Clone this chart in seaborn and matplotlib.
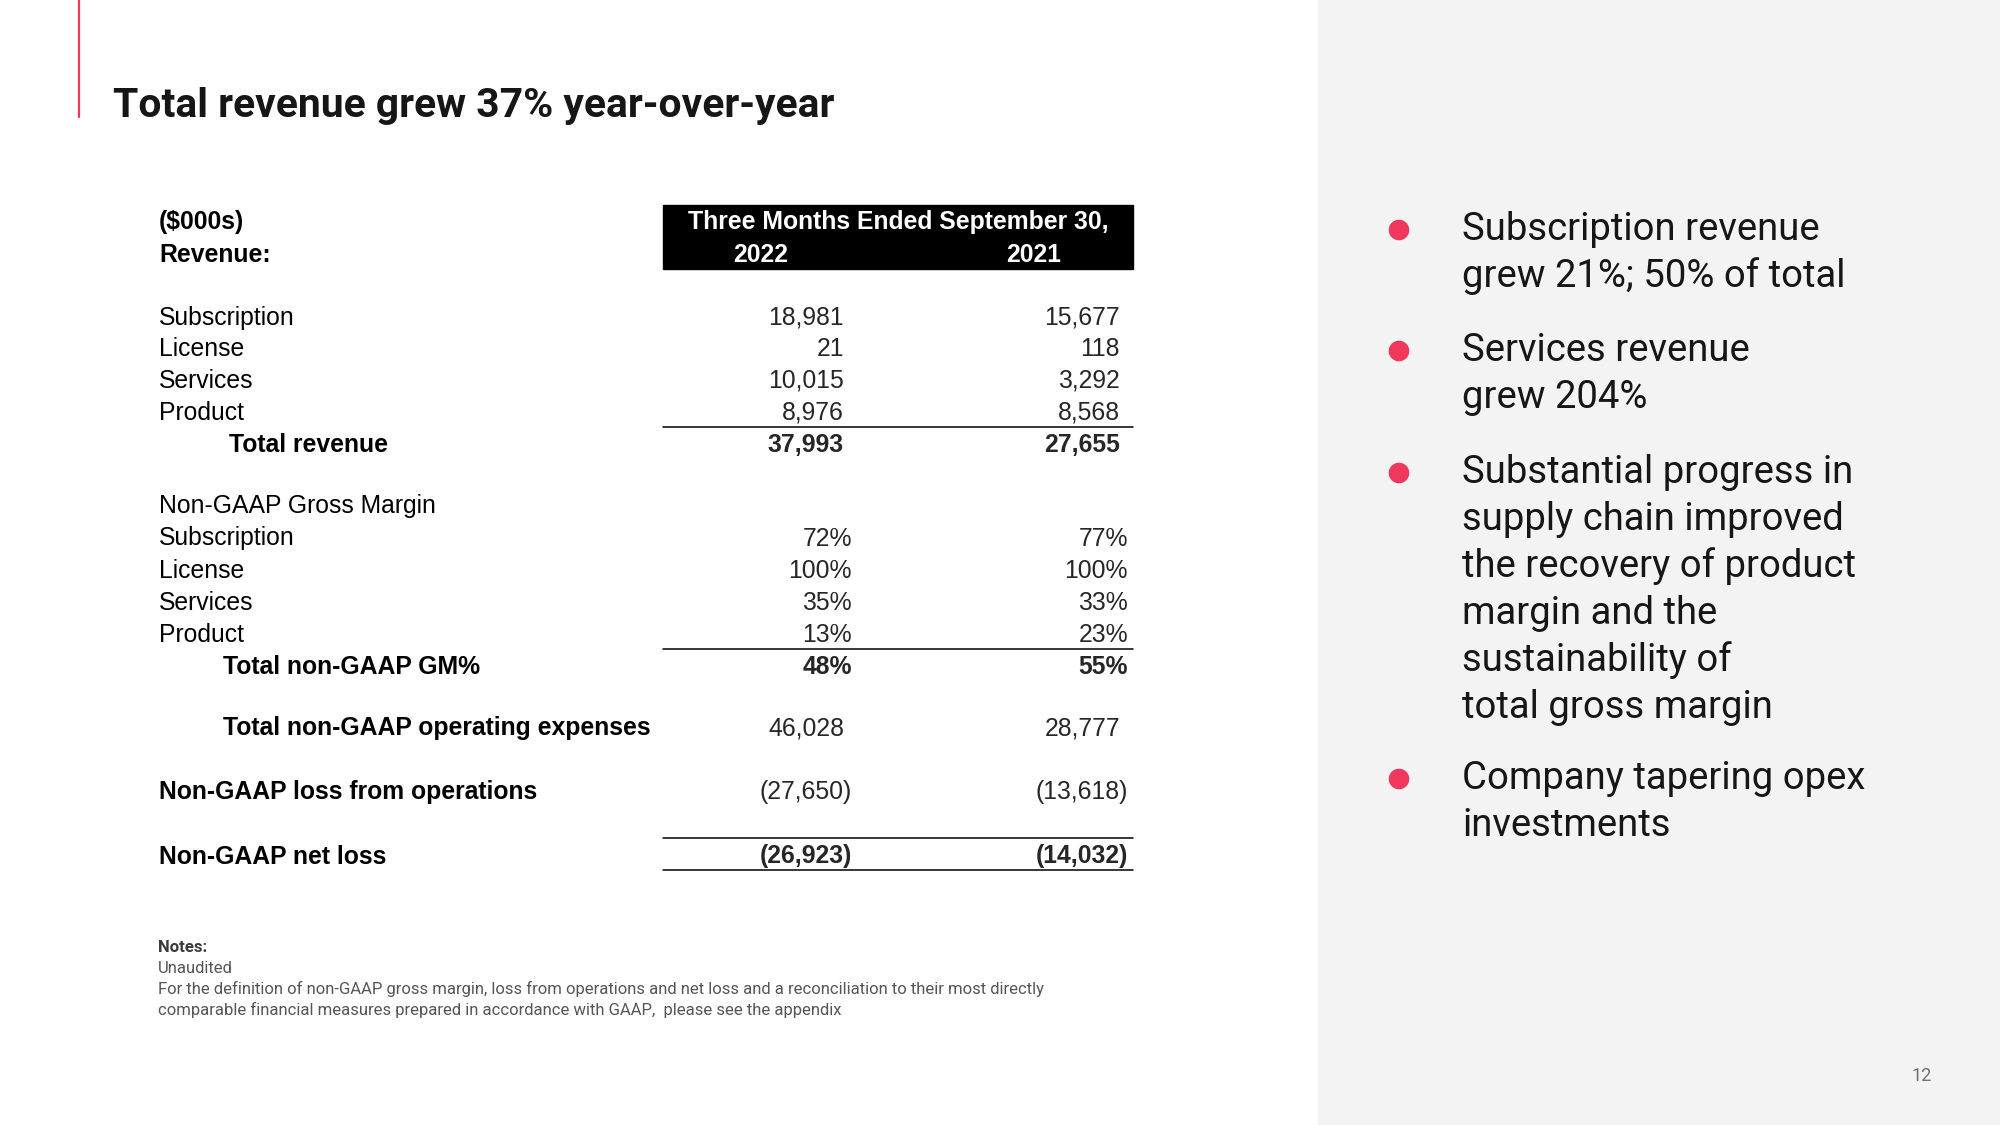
import matplotlib
matplotlib.use("Agg")
import matplotlib.pyplot as plt
import matplotlib.patches as mpatches
import seaborn as sns

sns.set_theme(style="white")
plt.rcParams['font.family'] = ['Liberation Sans', 'DejaVu Sans']

# data
segments = ["Subscription", "License", "Services", "Product"]
years = ["2022", "2021"]
revenue_2022 = [18981, 21, 10015, 8976]
revenue_2021 = [15677, 118, 3292, 8568]
total_revenue = [37993, 27655]
gm_2022 = [72, 100, 35, 13]
gm_2021 = [77, 100, 33, 23]
total_gm = [48, 55]
opex = [46028, 28777]
loss_from_ops = [-27650, -13618]
net_loss = [-26923, -14032]

title = "Total revenue grew 37% year-over-year"
bullets = [
    ["Subscription revenue", "grew 21%; 50% of total"],
    ["Services revenue", "grew 204%"],
    ["Substantial progress in", "supply chain improved", "the recovery of product",
     "margin and the", "sustainability of", "total gross margin"],
    ["Company tapering opex", "investments"],
]
notes = [
    "Unaudited",
    "For the definition of non-GAAP gross margin, loss from operations and net loss and a reconciliation to their most directly",
    "comparable financial measures prepared in accordance with GAAP,  please see the appendix",
]

RED = "#f0375c"
INK = "#161616"
SANS = ["Roboto", "DejaVu Sans"]


def fmt_num(v):
    if v < 0:
        return f"({abs(v):,})"
    return f"{v:,}"


fig = plt.figure(figsize=(20, 11.25), dpi=100)
ax = fig.add_axes([0, 0, 1, 1])
ax.set_xlim(0, 2000)
ax.set_ylim(1125, 0)
ax.axis("off")

# right grey panel + red accent line
ax.add_patch(mpatches.Rectangle((1318, 0), 682, 1125, color="#f4f3f3", zorder=0))
ax.plot([79, 79], [0, 117], color=RED, lw=1.6)

ax.text(113, 117, title, fontsize=29.3, fontweight="bold", color=INK,
        family=SANS, va="baseline")

# ---- table ----
FS = 17.8
LX, IX1, IX2 = 159, 229, 223
C1, C2 = 844, 1120       # right edges of number columns
P1, P2 = 852, 1128       # right edges for % and (...)
BOX_L, BOX_R = 663, 1133


def row(y, label, x, v1, v2, bold=False, vbold=None, hang=False):
    w = "bold" if bold else "normal"
    vw = w if vbold is None else ("bold" if vbold else "normal")
    base = y + 8.5
    ax.text(x, base, label, fontsize=FS, fontweight=w, color="black", va="baseline")
    if v1 is None:
        return
    r1, r2 = (P1, P2) if hang else (C1, C2)
    ax.text(r1, base, v1, fontsize=FS, fontweight=vw, ha="right", va="baseline")
    ax.text(r2, base, v2, fontsize=FS, fontweight=vw, ha="right", va="baseline")


ax.add_patch(mpatches.Rectangle((BOX_L, 205), BOX_R - BOX_L, 64, color="black"))
ax.text(898, 221 + 8.5, "Three Months Ended September 30,", fontsize=FS,
        fontweight="bold", color="white", ha="center", va="baseline")
for xc, yr in zip([761, 1034], years):
    ax.text(xc, 253 + 8.5, yr, fontsize=FS, fontweight="bold", color="white",
            ha="center", va="baseline")
row(221, "($000s)", LX, None, None, bold=True)
row(253, "Revenue:", LX, None, None, bold=True)

rev_y = [316, 348, 379, 411]
for y, name, a, b in zip(rev_y, segments, revenue_2022, revenue_2021):
    row(y, name, LX, fmt_num(a), fmt_num(b))
ax.plot([BOX_L, BOX_R], [427, 427], color="black", lw=1.1)
row(443, "Total revenue", IX1, fmt_num(total_revenue[0]), fmt_num(total_revenue[1]), bold=True)

row(505, "Non-GAAP Gross Margin", LX, None, None)
gm_y = [537, 570, 602, 633]
for y, name, a, b in zip(gm_y, segments, gm_2022, gm_2021):
    row(y, name, LX, f"{a}%", f"{b}%", hang=True)
ax.plot([BOX_L, BOX_R], [649, 649], color="black", lw=1.1)
row(665, "Total non-GAAP GM%", IX2, f"{total_gm[0]}%", f"{total_gm[1]}%", bold=True, hang=True)

row(727, "Total non-GAAP operating expenses", IX2, fmt_num(opex[0]), fmt_num(opex[1]),
    bold=True, vbold=False)
row(791, "Non-GAAP loss from operations", LX, fmt_num(loss_from_ops[0]),
    fmt_num(loss_from_ops[1]), bold=True, vbold=False, hang=True)

ax.plot([BOX_L, BOX_R], [838, 838], color="black", lw=1.1)
row(855, "Non-GAAP net loss", LX, fmt_num(net_loss[0]), fmt_num(net_loss[1]), bold=True, hang=True)
ax.plot([BOX_L, BOX_R], [870, 870], color="black", lw=1.1)

# ---- notes ----
ax.text(158, 952, "Notes:", fontsize=12, fontweight="bold", color="#3a3a3a",
        family=SANS, va="baseline")
for i, line in enumerate(notes):
    ax.text(158, 973 + 21 * i, line, fontsize=12, color="#555555",
            family=SANS, va="baseline")

# ---- bullets on the right ----
dot_x, dot_y = [], []
base = [240, 361, 483, 789]
for b0, lines in zip(base, bullets):
    dot_x.append(1399)
    dot_y.append(b0 - 10)
    for j, line in enumerate(lines):
        ax.text(1462, b0 + 47 * j, line, fontsize=27.5, fontweight="normal", color=INK,
                family=SANS, va="baseline")
sns.scatterplot(x=dot_x, y=dot_y, ax=ax, s=220, color=RED, edgecolor="none", zorder=3)

ax.text(1922, 1081, "12", fontsize=13, color="#6f6f6f", ha="center", va="baseline",
        family=SANS)

fig.savefig("out.png", dpi=100)
